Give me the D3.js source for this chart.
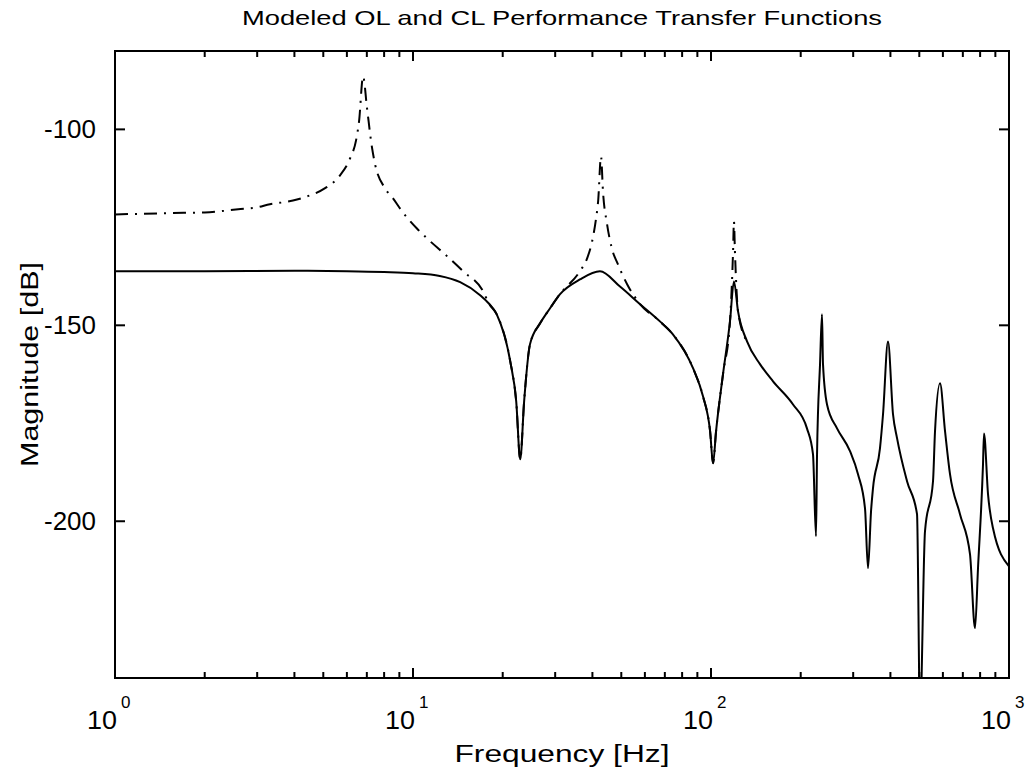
<!DOCTYPE html>
<html>
<head>
<meta charset="utf-8">
<script src="https://cdn.jsdelivr.net/npm/d3@7"></script>
<style>
  body { margin: 0; background: #fff; }
  text { font-family: "Liberation Sans", Arial, Helvetica, sans-serif; fill: #000; }
</style>
</head>
<body>
<svg id="chart" width="1032" height="767"></svg>
<script>
// closed loop (solid)
var clFreq = [1, 2, 4, 6, 8, 10, 12.3, 14.4, 16.8, 18.0, 19.1, 21.2, 22.2, 22.9, 23.6, 24.7, 26.7, 28.8, 31.1, 36.3, 42.4,
  49.5, 57.8, 67.4, 74.5, 87.1, 94.0, 99.3, 101.6, 104.0, 109.7, 115.8, 119.4, 123.2, 132.1, 146.0, 161.5,
  188.5, 209.9, 219.9, 225.1, 226.9, 232.2, 235.8, 237.6, 245.1, 264.8, 292.7, 311.4, 328.7, 336.4, 344.4,
  349.6, 369.0, 377.8, 392.6, 408.1, 421.0, 454.8, 491.3, 502.8, 522.5, 555.9, 564.6, 586.8, 610.0, 633.9,
  684.8, 739.8, 769.0, 787.0, 818.0, 824.4, 850.3, 883.8, 1000];
var clMag = [-136.2, -136.2, -136.1, -136.2, -136.4, -136.7, -137.4, -139.0, -142.3, -144.5, -147.2, -159.2, -169.4, -184.2, -169.4, -154.8, -149.5, -145.7, -142.1, -138.3, -136.2,
  -140.1, -144.6, -149.0, -152.3, -161.0, -168.1, -177.0, -185.2, -177.0, -162.5, -149.0, -138.8, -146.4, -154.1, -159.9, -164.3,
  -170.2, -176.3, -182.9, -203.8, -182.9, -159.9, -147.2, -159.9, -170.2, -176.3, -182.1, -188.0, -196.7, -212.0, -197.4,
  -191.6, -181.4, -172.7, -154.1, -172.7, -178.8, -189.8, -198.2, -250, -202.6, -189.8, -177.0, -164.8, -177.0, -188.0,
  -198.2, -208.4, -227.3, -212.0, -185.5, -177.6, -193.1, -201.8, -211.5];

// open loop (dash-dot)
var olFreq = [1, 1.7, 2.0, 2.59, 3.0, 3.31, 3.75, 4.08, 4.41, 5.07, 5.65, 6.15, 6.44, 6.59, 6.80, 7.01, 7.29, 7.46, 8.05, 8.57,
  9.19, 10.31, 11.14, 12.81, 14.72, 17.18, 18.0, 19.1, 21.2, 22.2, 22.9, 23.6, 24.7, 26.7, 28.8, 31.1, 36.3, 38.4,
  39.9, 41.1, 41.8, 42.75, 43.4, 44.8, 46.5, 48.7, 52.3, 57.8, 67.4, 74.5, 87.1, 94.0, 99.3, 101.6, 104.0,
  109.7, 115.8, 118.6, 119.4, 120.3, 123.2, 132.1];
var olMag = [-121.7, -121.3, -121.2, -120.4, -119.9, -119.1, -118.5, -117.9, -117.1, -115.0, -112.0, -107.4, -102.8, -98.0, -86.5, -94.6, -104.8, -108.9, -115.0, -117.6,
  -120.9, -125.3, -127.8, -131.9, -136.2, -141.3, -144.5, -147.2, -159.2, -169.4, -184.2, -169.4, -154.8, -149.5, -145.7, -142.1, -136.2, -132.9,
  -128.6, -123.0, -118.4, -106.9, -115.8, -124.2, -130.4, -134.4, -139.5, -144.6, -149.0, -152.3, -161.0, -168.1, -177.0, -185.2, -177.0,
  -162.5, -149.0, -131.0, -123.5, -131.0, -146.4, -154.1];

var yTicks = [-100, -150, -200];
var xDecades = [0, 1, 2, 3];
var titleText = "Modeled OL and CL Performance Transfer Functions";
var xLabel = "Frequency [Hz]";
var yLabel = "Magnitude [dB]";

var pl = 115, pr = 1009, pt = 51, pb = 678;
var svg = d3.select("#chart");

var x = d3.scaleLog().domain([1, 1000]).range([pl, pr]);
var y = d3.scaleLinear().domain([-240, -80]).range([pb, pt]);

svg.append("defs").append("clipPath").attr("id", "plot")
  .append("rect").attr("x", pl).attr("y", pt).attr("width", pr - pl).attr("height", pb - pt);

var line = d3.line()
  .x(function (d) { return x(d[0]); })
  .y(function (d) { return y(d[1]); })
  .curve(d3.curveMonotoneX);

var g = svg.append("g").attr("clip-path", "url(#plot)");

g.append("path")
  .datum(d3.zip(olFreq, olMag))
  .attr("d", line)
  .attr("fill", "none")
  .attr("stroke", "#000")
  .attr("stroke-width", 2)
  .attr("stroke-dasharray", "13,7,2,7");

g.append("path")
  .datum(d3.zip(clFreq, clMag))
  .attr("d", line)
  .attr("fill", "none")
  .attr("stroke", "#000")
  .attr("stroke-width", 2);

svg.append("rect").attr("x", pl).attr("y", pt).attr("width", pr - pl).attr("height", pb - pt)
  .attr("fill", "none").attr("stroke", "#000").attr("stroke-width", 2);

// ticks, pointing inward on all four sides
var tickG = svg.append("g").attr("stroke", "#000").attr("stroke-width", 2);
var xt = x.ticks();
xt.forEach(function (t) {
  var lg = Math.log10(t);
  var len = Math.abs(lg - Math.round(lg)) < 1e-9 ? 10 : 6;
  tickG.append("line").attr("x1", x(t)).attr("x2", x(t)).attr("y1", pb).attr("y2", pb - len);
  tickG.append("line").attr("x1", x(t)).attr("x2", x(t)).attr("y1", pt).attr("y2", pt + len);
});
yTicks.forEach(function (t) {
  tickG.append("line").attr("x1", pl).attr("x2", pl + 10).attr("y1", y(t)).attr("y2", y(t));
  tickG.append("line").attr("x1", pr).attr("x2", pr - 10).attr("y1", y(t)).attr("y2", y(t));
  svg.append("text").attr("x", pl - 19).attr("y", y(t) + 9)
    .attr("text-anchor", "end").attr("font-size", 25)
    .attr("textLength", 52).attr("lengthAdjust", "spacingAndGlyphs")
    .text(t);
});

xDecades.forEach(function (d) {
  var px = x(Math.pow(10, d));
  svg.append("text").attr("x", px + 2).attr("y", 729)
    .attr("text-anchor", "end").attr("font-size", 26)
    .attr("textLength", 30).attr("lengthAdjust", "spacingAndGlyphs")
    .text("10");
  svg.append("text").attr("x", px + 6).attr("y", 708)
    .attr("font-size", 17)
    .text(d);
});

svg.append("text").attr("x", (pl + pr) / 2).attr("y", 25)
  .attr("text-anchor", "middle").attr("font-size", 21)
  .attr("textLength", 640).attr("lengthAdjust", "spacingAndGlyphs")
  .text(titleText);

svg.append("text").attr("x", (pl + pr) / 2).attr("y", 762)
  .attr("text-anchor", "middle").attr("font-size", 23)
  .attr("textLength", 215).attr("lengthAdjust", "spacingAndGlyphs")
  .text(xLabel);

svg.append("text")
  .attr("transform", "translate(38," + ((pt + pb) / 2) + ") rotate(-90)")
  .attr("text-anchor", "middle").attr("font-size", 23)
  .attr("textLength", 205).attr("lengthAdjust", "spacingAndGlyphs")
  .text(yLabel);
</script>
</body>
</html>
